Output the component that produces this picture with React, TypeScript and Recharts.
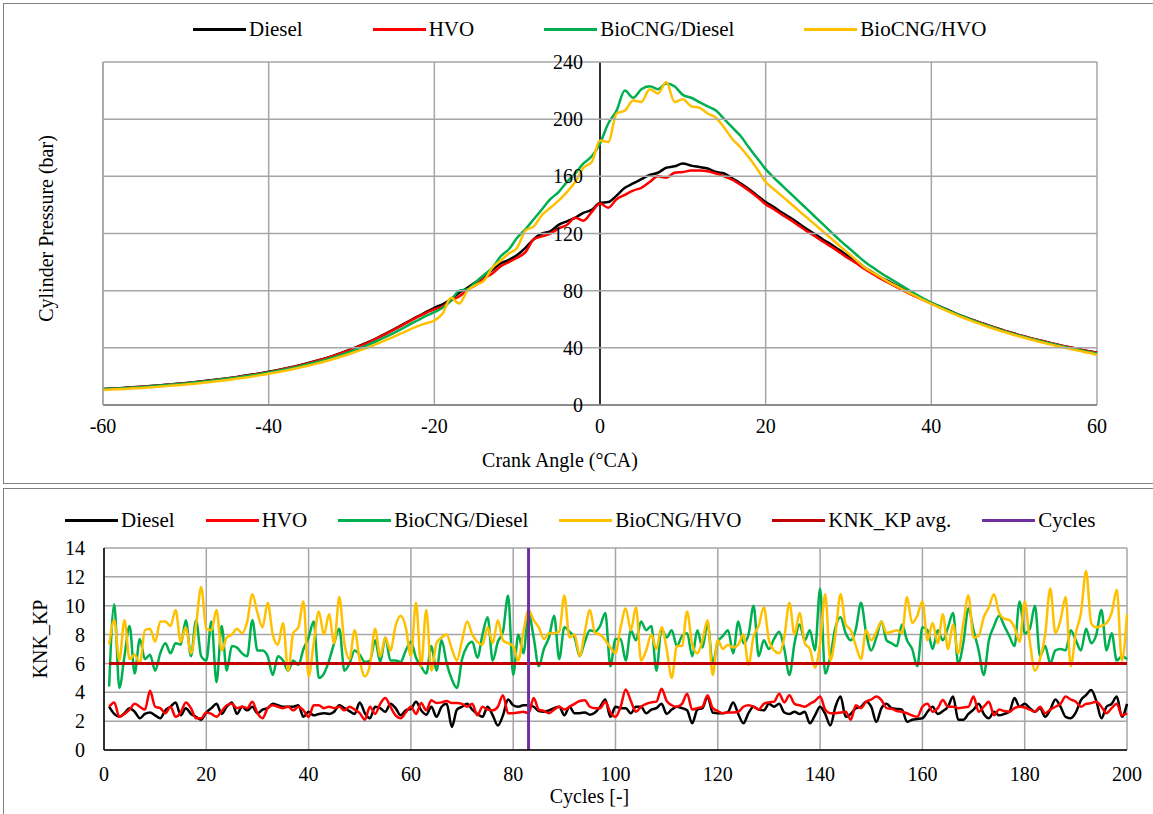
import React from 'react';
import { LineChart, Line, XAxis, YAxis, CartesianGrid, ReferenceLine } from 'recharts';

const FONT = '"Liberation Serif", Tinos, "Times New Roman", "DejaVu Serif", serif';

// ---------- Top chart: cylinder pressure vs crank angle ----------
const crankAngles = Array.from({ length: 121 }, (_, i) => i - 60);
const angleTicks = [-60, -40, -20, 0, 20, 40, 60];
const pressureTicks = [0, 40, 80, 120, 160, 200, 240];

const pDiesel = [
  11.2, 11.5, 11.8, 12.2, 12.6, 13.0, 13.4, 13.9, 14.4, 14.9,
  15.4, 16.0, 16.6, 17.3, 18.0, 18.7, 19.5, 20.4, 21.3, 22.2,
  23.2, 24.3, 25.5, 26.8, 28.2, 29.7, 31.3, 33.0, 34.9, 37.0,
  39.2, 41.5, 44.0, 46.7, 49.6, 52.6, 55.7, 58.8, 62.0, 65.0,
  68.0, 70.5, 74.0, 78.5, 82.0, 86.0, 90.5, 94.5, 99.0, 101.5,
  105, 110, 116, 120, 121.5, 126, 128.5, 131, 134.5, 136.5,
  141.5, 142, 146.5, 152, 155, 158, 161, 162.5, 166, 167,
  169, 167.5, 166.5, 165.5, 163, 162, 158.5, 155, 151, 146.5,
  142, 138.5, 134.5, 131, 127, 123, 119.5, 115.5, 112, 108,
  104, 100.5, 96, 92.5, 89, 86, 83, 80, 77, 74,
  71.5, 69, 66.5, 64, 61.7, 59.5, 57.5, 55.5, 53.5, 51.7,
  50, 48.3, 46.8, 45.3, 43.9, 42.5, 41.2, 40, 38.8, 37.6, 36.5,
];

const pHVO = [
  11.0, 11.3, 11.6, 12.0, 12.4, 12.8, 13.2, 13.7, 14.2, 14.7,
  15.2, 15.8, 16.4, 17.1, 17.8, 18.5, 19.3, 20.2, 21.1, 22.0,
  23.0, 24.1, 25.3, 26.6, 28.0, 29.5, 31.1, 32.8, 34.7, 36.7,
  38.9, 41.2, 43.7, 46.4, 49.3, 52.3, 55.4, 58.5, 61.6, 64.5,
  67.0, 69.0, 73.0, 76.0, 80.5, 84.0, 88.5, 92.0, 97.0, 100.0,
  103, 107, 116, 118, 120, 123.5, 126, 131, 129, 135,
  141, 138, 144, 147, 150, 152, 156, 160, 159, 162.5,
  163, 164, 164, 163.5, 162, 160, 157.5, 154, 150, 145.5,
  140.5, 137, 133, 129.5, 125.5, 121.5, 118, 114, 110.5, 106.5,
  102.5, 99, 95, 91.5, 88, 85, 82, 79, 76.2, 73.5,
  71, 68.5, 66, 63.6, 61.5, 59.4, 57.4, 55.4, 53.4, 51.6,
  49.9, 48.3, 46.8, 45.3, 43.9, 42.5, 41.2, 40, 38.8, 37.6, 36.5,
];

const pBioDiesel = [
  11.0, 11.3, 11.6, 11.9, 12.3, 12.7, 13.1, 13.6, 14.1, 14.6,
  15.1, 15.7, 16.3, 16.9, 17.6, 18.3, 19.1, 19.9, 20.8, 21.7,
  22.7, 23.8, 24.9, 26.1, 27.4, 28.8, 30.3, 31.9, 33.7, 35.6,
  37.6, 39.8, 42.1, 44.6, 47.3, 50.1, 53.1, 56.2, 59.3, 62.3,
  65, 68, 73, 80, 81, 86, 91, 96, 104, 109,
  117, 123, 130, 137, 144, 149, 156, 162, 169, 174,
  183, 197, 206, 220, 215, 221, 223, 221, 225, 223,
  217, 215, 212, 209, 206, 200, 194, 188, 180, 172.5,
  165, 159, 153.5, 148, 142.5, 137, 131.5, 126, 120.5, 115,
  110, 105, 100, 96, 92, 88.5, 85, 81.5, 78, 74.7,
  71.5, 68.8, 66.2, 63.7, 61.4, 59.2, 57.1, 55.1, 53.1, 51.3,
  49.6, 48, 46.4, 44.9, 43.5, 42.1, 40.8, 39.5, 38.3, 37.1, 36.0,
];

const pBioHVO = [
  10.5, 10.8, 11.1, 11.4, 11.7, 12.1, 12.5, 12.9, 13.4, 13.9,
  14.4, 14.9, 15.5, 16.1, 16.8, 17.5, 18.3, 19.1, 20.0, 20.9,
  21.9, 22.9, 24.0, 25.2, 26.5, 27.8, 29.3, 30.8, 32.5, 34.3,
  36.2, 38.2, 40.3, 42.6, 45.0, 47.5, 50.1, 52.8, 55.2, 57.2,
  59, 64, 75, 71, 80, 84, 87, 96, 101, 106,
  110, 122, 125, 133, 138, 143, 149, 156, 166, 170,
  185, 184, 204, 206, 213, 212, 221, 218, 226, 212,
  214, 209, 208, 204, 201, 194, 186, 180, 173, 165,
  156, 151, 146, 141, 136, 131, 126, 121, 116, 111,
  106, 101, 96, 92.5, 89, 85.5, 82.5, 79.5, 76.5, 73.5,
  70.8, 68.1, 65.5, 63, 60.7, 58.5, 56.4, 54.4, 52.5, 50.7,
  49, 47.4, 45.8, 44.3, 42.9, 41.5, 40.2, 38.9, 37.7, 36.5, 35.0,
];

// ---------- Bottom chart: KNK_KP per cycle ----------
const cycleNumbers = Array.from({ length: 200 }, (_, i) => i + 1);
const cycleTicks = [0, 20, 40, 60, 80, 100, 120, 140, 160, 180, 200];
const knkTicks = [0, 2, 4, 6, 8, 10, 12, 14];
const knkAvg = 6;
const cycleMarker = 83;

const knkDiesel = [
  3.0, 2.5, 2.3, 2.55, 2.9, 2.65, 2.2, 2.5, 2.6, 2.4,
  2.2, 2.75, 3.0, 3.3, 2.4, 2.9, 2.5, 2.3, 2.1, 2.6,
  2.9, 3.2, 2.5, 3.0, 3.3, 2.5, 3.0, 2.75, 3.0, 2.55,
  2.8, 2.9, 3.2, 3.1, 3.0, 3.0, 3.0, 3.1, 2.3, 2.65,
  2.4, 2.5, 2.55, 2.5, 2.65, 3.1, 2.9, 2.7, 2.5, 3.3,
  2.55, 2.2, 3.0, 2.9, 2.65, 3.2, 2.9, 2.4, 2.75, 2.85,
  3.35, 2.75, 2.45, 3.0, 2.3, 3.0, 3.2, 1.6, 2.8, 3.0,
  3.2, 2.8, 2.5, 2.3, 3.0, 2.4, 1.7, 2.4, 3.5, 3.1,
  3.0, 3.1, 3.1, 3.0, 2.7, 2.65, 2.75, 2.9, 3.0, 2.4,
  3.0, 2.55, 2.55, 2.6, 2.45, 2.6, 3.0, 3.5, 2.3, 3.0,
  2.9, 2.9, 2.55, 3.0, 3.0, 2.55, 2.8, 2.9, 3.2, 2.5,
  2.8, 3.0, 2.9, 2.75, 1.85, 2.8, 2.9, 3.7, 2.6, 2.55,
  2.55, 2.65, 3.3, 2.5, 1.85, 2.55, 3.0, 2.8, 2.75, 3.2,
  3.0, 3.2, 2.6, 2.5, 2.65, 2.5, 2.65, 1.85, 2.4, 3.0,
  2.5, 1.7, 3.0, 3.7, 2.3, 2.5, 2.9, 3.0, 3.35, 3.0,
  1.95, 2.9, 3.2, 2.9, 2.85, 2.8, 1.95, 2.1, 2.15, 2.2,
  2.65, 3.0, 2.5, 2.7, 3.0, 3.7, 2.1, 2.1, 2.5, 2.8,
  3.2, 2.5, 2.2, 2.65, 2.4, 2.5, 2.65, 3.6, 3.0, 3.2,
  2.9, 2.65, 2.9, 2.3, 2.8, 3.5, 3.0, 2.3, 2.2, 2.6,
  3.46, 3.8, 4.15, 3.4, 2.2, 3.0, 3.2, 3.7, 2.3, 3.2,
];

const knkHVO = [
  3.0, 3.3, 2.3, 2.5, 2.8, 3.2, 3.0, 2.8, 4.1, 3.0,
  2.9, 2.55, 3.0, 2.3, 2.6, 3.3, 2.9, 2.2, 2.2, 2.6,
  2.5, 2.3, 2.7, 3.1, 3.2, 2.9, 3.0, 2.9, 3.35, 2.55,
  2.2, 2.9, 3.1, 3.0, 2.9, 3.0, 2.75, 3.0, 2.75, 2.3,
  3.1, 3.1, 2.9, 3.0, 2.9, 3.0, 2.75, 3.0, 2.8, 2.55,
  2.1, 3.0, 2.5, 3.2, 3.6, 3.0, 2.4, 2.2, 2.6, 3.0,
  2.5, 3.25, 2.75, 3.45, 3.25, 3.3, 3.4, 3.25, 3.25, 3.2,
  3.0, 3.2, 2.4, 3.0, 2.8, 2.75, 3.0, 3.8, 2.55, 2.55,
  2.6, 2.65, 2.55, 3.6, 2.8, 2.7, 2.55, 2.8, 3.0, 2.8,
  3.0, 3.2, 3.4, 3.45, 3.0, 2.9, 2.9, 3.35, 2.6, 2.3,
  3.0, 4.2, 3.4, 2.65, 3.0, 3.2, 3.3, 3.35, 4.25, 3.4,
  3.1, 3.0, 3.2, 3.9, 2.8, 2.9, 3.0, 3.8, 2.9, 2.7,
  2.55, 2.6, 2.6, 2.65, 3.0, 3.1, 3.0, 2.8, 3.2, 3.3,
  3.35, 3.9, 3.3, 3.8, 3.2, 3.1, 3.0, 3.2, 3.4, 3.7,
  2.8, 2.55, 2.55, 2.6, 2.65, 2.1, 3.1, 2.9, 3.35, 3.5,
  3.7, 3.46, 2.9, 2.85, 2.7, 2.65, 2.55, 2.4, 2.3, 3.0,
  3.2, 2.65, 2.9, 3.46, 3.0, 3.0, 2.9, 2.95, 3.0, 3.7,
  2.65, 3.0, 3.35, 2.4, 2.8, 2.7, 2.65, 2.9, 3.0, 2.95,
  2.8, 2.65, 3.0, 2.55, 2.8, 3.0, 3.2, 3.7, 3.5, 3.35,
  3.0, 3.2, 3.25, 3.35, 3.0, 2.55, 2.9, 3.2, 2.4, 2.55,
];

const knkBioDiesel = [
  4.4, 10.1, 4.3, 6.5, 8.6, 5.3, 7.7, 6.3, 6.6, 5.5,
  6.7, 7.4, 6.7, 7.4, 7.3, 9.0, 6.5, 9.0, 6.5, 6.2,
  8.9, 4.7, 8.6, 5.5, 7.2, 7.1, 6.7, 6.5, 9.0, 6.9,
  6.9, 6.5, 5.2, 6.5, 6.2, 5.5, 6.2, 5.9, 7.0, 7.8,
  8.9, 5.0, 5.3, 6.2, 7.4, 8.4, 5.5, 6.0, 6.9, 6.6,
  6.1, 6.2, 7.6, 6.1, 7.8, 6.2, 6.2, 6.1, 6.9, 7.5,
  6.4, 5.8, 5.3, 7.2, 5.5, 7.6, 6.0, 4.9, 4.3, 6.3,
  7.2, 7.5, 6.4, 8.0, 9.2, 6.2, 7.5, 8.2, 10.7, 5.2,
  8.0, 6.7, 9.5, 7.8, 5.8, 7.0, 7.8, 9.3, 6.3, 8.5,
  8.2, 7.8, 6.5, 7.5, 8.3, 8.2, 8.6, 9.5, 5.8, 7.7,
  7.7, 6.2, 8.3, 7.6, 8.9, 8.3, 8.6, 5.5, 8.4, 7.8,
  8.3, 7.2, 7.9, 8.1, 6.5, 8.3, 7.1, 8.8, 6.0, 7.5,
  7.9, 8.3, 6.7, 8.9, 7.4, 8.0, 10.0, 6.5, 7.6, 7.0,
  7.7, 8.2, 7.0, 5.2, 7.4, 8.7, 7.6, 8.3, 6.9, 11.2,
  5.3, 6.5, 8.5, 9.2, 8.1, 7.6, 8.4, 10.2, 8.1, 6.9,
  7.8, 8.9, 7.6, 7.4, 7.2, 8.7, 7.6, 7.0, 5.8, 8.5,
  8.3, 7.0, 8.3, 7.6, 8.5, 9.5, 6.0, 7.4, 9.8, 8.3,
  6.9, 5.2, 7.6, 8.6, 9.3, 8.6, 7.9, 7.2, 10.3, 8.1,
  8.4, 10.0, 6.5, 7.2, 6.0, 6.9, 7.0, 6.9, 8.3, 7.6,
  6.9, 8.4, 7.4, 8.0, 9.7, 6.9, 8.1, 6.2, 6.5, 6.3,
];

const knkBioHVO = [
  7.3, 9.0, 6.2, 9.0, 6.3, 6.6, 6.0, 8.3, 8.4, 7.5,
  8.9, 8.9, 8.6, 9.7, 7.5, 8.5, 6.7, 8.7, 11.3, 8.4,
  8.3, 9.7, 6.9, 7.8, 8.0, 8.4, 8.1, 8.9, 10.8, 9.5,
  8.5, 10.2, 8.0, 7.3, 8.8, 5.5, 8.1, 8.5, 10.3, 5.1,
  7.4, 9.6, 8.0, 9.4, 7.4, 10.6, 7.4, 6.3, 8.3, 6.2,
  5.1, 5.9, 8.4, 6.5, 7.8, 6.9, 8.6, 9.3, 8.5, 6.5,
  10.2, 5.8, 9.7, 5.5, 7.4, 7.8, 8.0, 7.0, 6.2, 7.6,
  8.9, 8.0, 7.5, 7.3, 8.5, 7.4, 9.0, 7.6, 7.4, 7.2,
  6.2, 8.2, 9.7, 9.0, 8.5, 7.7, 8.1, 8.1, 8.2, 10.7,
  7.8, 8.0, 6.5, 8.2, 9.7, 8.1, 8.0, 7.6, 7.1, 6.7,
  8.5, 9.8, 8.3, 9.9, 6.2, 6.9, 8.0, 7.0, 8.5, 7.0,
  5.0, 7.2, 7.2, 9.6, 7.3, 6.7, 7.6, 9.0, 5.2, 7.6,
  7.0, 7.3, 7.1, 7.3, 8.0, 5.9, 7.9, 8.6, 9.9, 7.6,
  6.9, 6.7, 7.8, 10.2, 8.0, 9.5, 7.4, 7.0, 5.7, 7.4,
  10.8, 6.2, 8.0, 10.8, 8.7, 8.3, 7.2, 6.3, 8.3, 7.6,
  8.2, 8.9, 8.1, 8.2, 8.3, 8.1, 10.6, 8.8, 9.3, 10.3,
  7.6, 8.8, 7.4, 9.4, 7.0, 8.7, 6.7, 8.8, 10.7, 7.8,
  7.9, 9.2, 9.9, 10.8, 9.5, 9.1, 9.0, 8.5, 7.5, 10.3,
  7.5, 5.5, 6.3, 8.0, 11.2, 8.1, 9.0, 10.6, 5.8, 8.1,
  9.5, 12.4, 8.8, 8.5, 8.6, 8.8, 9.5, 11.1, 6.2, 9.4,
];

// series styling (names / colours)
const seriesNames = ['Diesel', 'HVO', 'BioCNG/Diesel', 'BioCNG/HVO'];
const seriesKeys = ['diesel', 'hvo', 'bioDiesel', 'bioHvo'];
const seriesColors = ['#000000', '#FF0000', '#00B050', '#FFC000'];
const avgName = 'KNK_KP avg.';
const avgColor = '#C00000';
const markerName = 'Cycles';
const markerColor = '#7030A0';

const pressureData = crankAngles.map((a, i) => ({
  angle: a,
  diesel: pDiesel[i],
  hvo: pHVO[i],
  bioDiesel: pBioDiesel[i],
  bioHvo: pBioHVO[i],
}));

const knkData = cycleNumbers.map((c, i) => ({
  cycle: c,
  diesel: knkDiesel[i],
  hvo: knkHVO[i],
  bioDiesel: knkBioDiesel[i],
  bioHvo: knkBioHVO[i],
}));

const TICK = { fill: '#000000', fontSize: 20, fontFamily: FONT };
const GRID = '#a6a6a6';

// top chart layout (styles, not data)
const TOP_W = 1149;
const TOP_H = 479;
const TOP_MARGIN = { top: 58, right: 56, bottom: 0, left: 20 };
const TOP_YAXIS_W = 79;
const TOP_PLOT_W = TOP_W - TOP_MARGIN.left - TOP_MARGIN.right - TOP_YAXIS_W;
// value-axis tick lines run across the whole plot (horizontal gridlines);
// their labels sit just left of the 0 °CA line, i.e. half a plot width in
const TOP_TICK_SIZE = -TOP_PLOT_W;
const TOP_TICK_MARGIN = TOP_PLOT_W / 2 + 17;

type LegendItem = { name: string; color: string };

function HtmlLegend({ items, left, top, gap }: { items: LegendItem[]; left: number; top: number; gap: number }) {
  return (
    <div
      style={{
        position: 'absolute',
        left,
        top,
        display: 'flex',
        alignItems: 'center',
        fontFamily: FONT,
        fontSize: 21,
        lineHeight: '24px',
        whiteSpace: 'nowrap',
        color: '#000',
      }}
    >
      {items.map((it, i) => (
        <div key={it.name} style={{ display: 'flex', alignItems: 'center', marginRight: i === items.length - 1 ? 0 : gap }}>
          <div style={{ width: 53, height: 3, background: it.color, marginRight: 3 }} />
          <span>{it.name}</span>
        </div>
      ))}
    </div>
  );
}

function PressureChart() {
  return (
    <LineChart width={TOP_W} height={TOP_H} data={pressureData} margin={TOP_MARGIN} style={{ fontFamily: FONT }}>
      <CartesianGrid stroke={GRID} strokeWidth={1.5} horizontal={false} />
      <XAxis
        dataKey="angle"
        type="number"
        domain={[-60, 60]}
        ticks={angleTicks}
        tickLine={false}
        tickSize={0}
        tickMargin={14}
        axisLine={{ stroke: '#000', strokeWidth: 1.5 }}
        tick={TICK}
        height={78}
        label={{ value: 'Crank Angle (°CA)', position: 'insideBottom', offset: 16, dx: -40, fill: '#000', fontSize: 20, fontFamily: FONT }}
      />
      <YAxis
        type="number"
        domain={[0, 240]}
        ticks={pressureTicks}
        tickLine={{ stroke: GRID, strokeWidth: 1.5 }}
        tickSize={TOP_TICK_SIZE}
        tickMargin={TOP_TICK_MARGIN}
        axisLine={{ stroke: GRID, strokeWidth: 1.5 }}
        tick={TICK}
        width={TOP_YAXIS_W}
        label={{ value: 'Cylinder Pressure (bar)', angle: -90, position: 'center', dx: -18, dy: -5, fill: '#000', fontSize: 20, fontFamily: FONT }}
      />
      <ReferenceLine x={0} stroke="#000" strokeWidth={1.5} />
      {seriesKeys.map((k, i) => (
        <Line
          key={k}
          dataKey={k}
          name={seriesNames[i]}
          type="monotone"
          stroke={seriesColors[i]}
          strokeWidth={2.5}
          dot={false}
          activeDot={false}
          isAnimationActive={false}
        />
      ))}
    </LineChart>
  );
}

function KnockChart() {
  return (
    <LineChart width={1149} height={325} data={knkData} margin={{ top: 59, right: 26, bottom: 0, left: 20 }} style={{ fontFamily: FONT }}>
      <CartesianGrid stroke={GRID} strokeWidth={1.5} />
      <XAxis
        dataKey="cycle"
        type="number"
        domain={[0, 200]}
        ticks={cycleTicks}
        tickLine={false}
        tickSize={0}
        tickMargin={17}
        axisLine={{ stroke: '#000', strokeWidth: 1.5 }}
        tick={TICK}
        height={64}
        label={{ value: 'Cycles [-]', position: 'insideBottom', offset: 11, dx: -26, fill: '#000', fontSize: 20, fontFamily: FONT }}
      />
      <YAxis
        type="number"
        domain={[0, 14]}
        ticks={knkTicks}
        tickLine={false}
        tickSize={0}
        tickMargin={19}
        axisLine={{ stroke: '#000', strokeWidth: 1.5 }}
        tick={TICK}
        width={80}
        label={{ value: 'KNK_KP', angle: -90, position: 'center', dx: -24, dy: -10, fill: '#000', fontSize: 20, fontFamily: FONT }}
      />
      {seriesKeys.map((k, i) => (
        <Line
          key={k}
          dataKey={k}
          name={seriesNames[i]}
          type="monotone"
          stroke={seriesColors[i]}
          strokeWidth={2.5}
          dot={false}
          activeDot={false}
          isAnimationActive={false}
        />
      ))}
      <ReferenceLine
        segment={[{ x: cycleNumbers[0], y: knkAvg }, { x: cycleNumbers[cycleNumbers.length - 1], y: knkAvg }]}
        stroke={avgColor}
        strokeWidth={3}
      />
      <ReferenceLine x={cycleMarker} stroke={markerColor} strokeWidth={3} />
    </LineChart>
  );
}

export default function App() {
  const topLegend = seriesNames.map((n, i) => ({ name: n, color: seriesColors[i] }));
  const bottomLegend = [...topLegend, { name: avgName, color: avgColor }, { name: markerName, color: markerColor }];
  return (
    <div style={{ position: 'absolute', left: 0, top: 0, width: 1153, height: 814, overflow: 'hidden', background: '#fff', fontFamily: FONT }}>
      <div
        style={{
          position: 'absolute',
          left: 3,
          top: 3,
          width: 1150,
          height: 481,
          boxSizing: 'border-box',
          borderTop: '1px solid #7f7f7f',
          borderLeft: '1px solid #7f7f7f',
          borderBottom: '1px solid #7f7f7f',
        }}
      >
        <PressureChart />
      </div>
      <div
        style={{
          position: 'absolute',
          left: 3,
          top: 488,
          width: 1150,
          height: 326,
          boxSizing: 'border-box',
          borderTop: '1px solid #7f7f7f',
          borderLeft: '1px solid #7f7f7f',
        }}
      >
        <KnockChart />
      </div>
      <HtmlLegend items={topLegend} left={193} top={17} gap={70} />
      <HtmlLegend items={bottomLegend} left={65} top={508} gap={31} />
    </div>
  );
}
